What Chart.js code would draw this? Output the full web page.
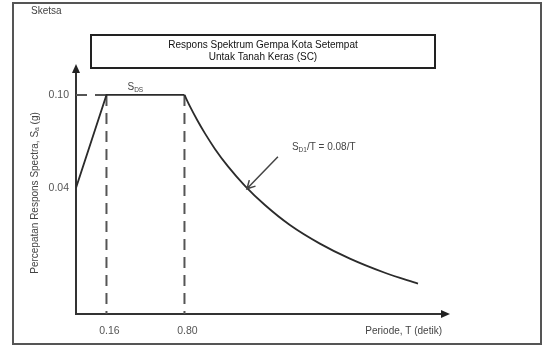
<!DOCTYPE html>
<html>
<head>
<meta charset="utf-8">
<script src="https://cdn.jsdelivr.net/npm/chart.js@4/dist/chart.umd.min.js"></script>
<style>
  html, body { margin: 0; padding: 0; background: #fff; }
  #wrap { width: 543px; height: 347px; position: relative; }
</style>
</head>
<body>
<div id="wrap"><canvas id="c" width="543" height="347"></canvas></div>
<script>
// ---- data ----
const periodTicks = [0.16, 0.80];
const accelTicks = [0.04, 0.10];
const periodRange = [-0.09, 2.913];
const accelRange = [-0.0413, 0.1148];

// rising branch + plateau (S_DS)
const rampT  = [-0.09, 0.16, 0.80];
const rampSa = [0.04, 0.10, 0.10];

// descending branch S_D1/T (as drawn in the sketch)
const curveT  = [0.800, 0.845, 0.903, 0.968, 1.050, 1.157, 1.296, 1.460, 1.665, 1.911, 2.157, 2.444, 2.716];
const curveSa = [0.1000, 0.0926, 0.0840, 0.0752, 0.0652, 0.0539, 0.0414, 0.0290, 0.0161, 0.0041, -0.0056, -0.0147, -0.0217];

const titleLines = ['Respons Spektrum Gempa Kota Setempat', 'Untak Tanah Keras (SC)'];
const arrowTargetIndex = 6;

const FONT = "'Liberation Sans', Arial, sans-serif";

function pts(xs, ys) { return xs.map((x, i) => ({ x: x, y: ys[i] })); }

const guides = [
  { data: pts([periodRange[0], periodTicks[0]], [accelTicks[1], accelTicks[1]]), dash: [11, 8] },
  { data: pts([periodTicks[0], periodTicks[0]], [accelTicks[1], accelRange[0]]), dash: [11, 7] },
  { data: pts([periodTicks[1], periodTicks[1]], [accelTicks[1], accelRange[0]]), dash: [11, 7] }
];

const datasets = [
  { data: pts(rampT, rampSa), borderColor: '#2b2b2b', borderWidth: 1.8, tension: 0, order: 1 },
  { data: pts(curveT, curveSa), borderColor: '#2b2b2b', borderWidth: 1.8, cubicInterpolationMode: 'monotone', order: 1 }
].concat(guides.map(g => ({ data: g.data, borderColor: '#555', borderWidth: 2, borderDash: g.dash, order: 2 })));

function subText(ctx, x, y, parts) {
  let cx = x;
  parts.forEach(p => {
    ctx.font = p[1] + 'px ' + FONT;
    ctx.fillText(p[0], cx, y + p[2]);
    cx += ctx.measureText(p[0]).width;
  });
}

const decor = {
  id: 'decor',
  beforeDraw(chart) {
    const ctx = chart.ctx;
    ctx.save();
    ctx.fillStyle = '#fff';
    ctx.fillRect(0, 0, chart.width, chart.height);
    ctx.restore();
  },
  afterDraw(chart) {
    const ctx = chart.ctx;
    const xs = chart.scales.x, ys = chart.scales.y;
    const ca = chart.chartArea;
    ctx.save();
    // outer frame
    ctx.strokeStyle = '#555';
    ctx.lineWidth = 2;
    ctx.strokeRect(13, 3, 528, 341);
    // Sketsa
    ctx.fillStyle = '#444';
    ctx.textBaseline = 'middle';
    ctx.textAlign = 'left';
    ctx.font = '10px ' + FONT;
    ctx.fillText('Sketsa', 31, 11);
    // title box
    ctx.strokeStyle = '#222';
    ctx.lineWidth = 2;
    ctx.strokeRect(91, 35, 344, 33);
    ctx.fillStyle = '#111';
    ctx.textAlign = 'center';
    ctx.font = '10px ' + FONT;
    ctx.fillText(titleLines[0], 263, 45);
    ctx.fillText(titleLines[1], 263, 57);
    // axis arrowheads
    ctx.fillStyle = '#222';
    ctx.beginPath();
    ctx.moveTo(ca.left, ca.top - 8);
    ctx.lineTo(ca.left - 4, ca.top + 1);
    ctx.lineTo(ca.left + 4, ca.top + 1);
    ctx.closePath();
    ctx.fill();
    ctx.beginPath();
    ctx.moveTo(ca.right + 8, ca.bottom);
    ctx.lineTo(ca.right - 1, ca.bottom - 4);
    ctx.lineTo(ca.right - 1, ca.bottom + 4);
    ctx.closePath();
    ctx.fill();
    // S_DS label above plateau
    ctx.fillStyle = '#444';
    ctx.textAlign = 'left';
    ctx.textBaseline = 'alphabetic';
    const plateauMid = xs.getPixelForValue((rampT[1] + rampT[2]) / 2);
    const plateauY = ys.getPixelForValue(rampSa[2]);
    subText(ctx, plateauMid - 18, plateauY - 5, [['S', 10, 0], ['DS', 6.5, 2]]);
    // annotation arrow pointing at the curve
    const tip = {
      x: xs.getPixelForValue(curveT[arrowTargetIndex]) + 2,
      y: ys.getPixelForValue(curveSa[arrowTargetIndex]) + 3
    };
    const tail = { x: tip.x + 31, y: tip.y - 32 };
    ctx.strokeStyle = '#444';
    ctx.lineWidth = 1.5;
    ctx.beginPath();
    ctx.moveTo(tail.x, tail.y);
    ctx.lineTo(tip.x, tip.y);
    const ang = Math.atan2(tail.y - tip.y, tail.x - tip.x);
    const wl = 9, wa = 0.5;
    ctx.moveTo(tip.x + wl * Math.cos(ang + wa), tip.y + wl * Math.sin(ang + wa));
    ctx.lineTo(tip.x, tip.y);
    ctx.lineTo(tip.x + wl * Math.cos(ang - wa), tip.y + wl * Math.sin(ang - wa));
    ctx.stroke();
    ctx.fillStyle = '#444';
    subText(ctx, tail.x + 14, tail.y - 7, [['S', 10, 0], ['D1', 6.5, 2], ['/T = 0.08/T', 10, 0]]);
    ctx.restore();
  }
};

new Chart(document.getElementById('c'), {
  type: 'line',
  data: { datasets: datasets },
  plugins: [decor],
  options: {
    responsive: false,
    animation: false,
    devicePixelRatio: 1,
    layout: { padding: { top: 72, left: 14, right: 101, bottom: 0 } },
    elements: { point: { radius: 0 }, line: { fill: false } },
    plugins: { legend: { display: false }, tooltip: { enabled: false }, title: { display: false } },
    scales: {
      x: {
        type: 'linear',
        min: periodRange[0],
        max: periodRange[1],
        grid: { display: false, drawTicks: false },
        border: { display: true, color: '#333', width: 2 },
        afterBuildTicks: s => { s.ticks = periodTicks.map(v => ({ value: v })); },
        afterFit: s => { s.height = 33; },
        ticks: {
          color: '#555',
          padding: 11,
          labelOffset: 3,
          font: { family: FONT, size: 10.5 },
          callback: v => Number(v).toFixed(2)
        },
        title: {
          display: true,
          text: 'Periode, T (detik)',
          align: 'end',
          color: '#444',
          font: { family: FONT, size: 10 },
          padding: { top: 0, bottom: 10 }
        }
      },
      y: {
        type: 'linear',
        min: accelRange[0],
        max: accelRange[1],
        grid: { display: false, drawTicks: false },
        border: { display: true, color: '#333', width: 2 },
        afterBuildTicks: s => { s.ticks = accelTicks.map(v => ({ value: v })); },
        afterFit: s => { s.width = 62; },
        ticks: {
          color: '#555',
          padding: 7,
          font: { family: FONT, size: 10.5 },
          callback: v => Number(v).toFixed(2)
        },
        title: {
          display: true,
          text: 'Percepatan Respons Spectra, Sₐ (g)',
          color: '#444',
          font: { family: FONT, size: 10 },
          padding: { top: 15, bottom: 0 }
        }
      }
    }
  }
});
</script>
</body>
</html>
